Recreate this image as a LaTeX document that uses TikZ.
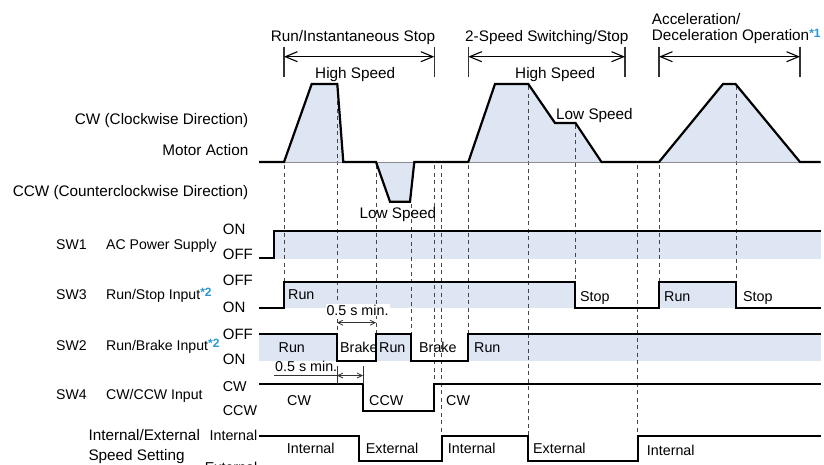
\documentclass[tikz,border=0pt]{standalone}
\usepackage{fontspec}
\setmainfont{Liberation Sans}
\usetikzlibrary{arrows.meta}
\definecolor{bandblue}{RGB}{222,230,244}
\definecolor{starblue}{RGB}{40,150,215}
\definecolor{dashgray}{RGB}{70,70,70}
\newcommand\starnote[1]{\raisebox{3.5pt}{\fontsize{12}{12}\selectfont\bfseries\color{starblue}*#1}}
\begin{document}
\begin{tikzpicture}[x=1pt,y=-1pt,
  sig/.style={line width=2.2pt, line join=miter, line cap=butt},
  guide/.style={dashgray, line width=0.9pt, dash pattern=on 4pt off 3.5pt},
  lbl/.style={inner sep=0pt, font=\fontsize{15.3}{18}\selectfont},
  swl/.style={inner sep=0pt, font=\fontsize{14.1}{17}\selectfont},
  lvl/.style={inner sep=0pt, font=\fontsize{15}{18}\selectfont},
  slbl/.style={inner sep=0pt, font=\fontsize{14.3}{17}\selectfont},
  dimarrow/.style={line width=1.1pt, {Straight Barb[length=12pt,width=10pt]}-{Straight Barb[length=12pt,width=10pt]}},
  dimbar/.style={line width=1.1pt, black!80},
  smallarrow/.style={line width=0.8pt, black!80, {Straight Barb[length=5pt,width=5pt]}-{Straight Barb[length=5pt,width=5pt]}},
  tick/.style={line width=0.8pt, black!80},
]
\useasboundingbox (0,0) rectangle (824,464);

% ---------- bands ----------
\fill[bandblue] (284,162)--(311.7,84)--(337.3,84)--(343.3,162)--cycle;
\fill[bandblue] (376,162)--(390,201.7)--(410,201.7)--(414.3,162)--cycle;
\fill[bandblue] (468.3,162)--(495,84)--(528.3,84)--(555,123)--(575.5,123)--(601.5,162)--cycle;
\fill[bandblue] (659,162)--(723,84)--(735.5,84)--(800,162)--cycle;
\fill[bandblue] (274,231.3) rectangle (820.7,258.5);
\fill[bandblue] (284,281.7) rectangle (575,308);
\fill[bandblue] (659,281.7) rectangle (736,308);
\fill[bandblue] (259,334.3) rectangle (337,360.5);
\fill[bandblue] (376,334.3) rectangle (411,360.5);
\fill[bandblue] (468,334.3) rectangle (820.7,360.5);

% ---------- dashed guide lines ----------
\draw[guide] (284,165) -- (284,281.7);
\draw[guide] (337,86) -- (337,334.3);
\draw[guide] (376,165) -- (376,334.3);
\draw[guide] (411,204) -- (411,334.3);
\draw[guide] (434.3,165) -- (434.3,384.3);
\draw[guide] (441.7,165) -- (441.7,435.7);
\draw[guide] (468.3,165) -- (468.3,334.3);
\draw[guide] (528,86) -- (528,435.7);
\draw[guide] (575,125) -- (575,281.7);
\draw[guide] (637.7,165) -- (637.7,435.7);
\draw[guide] (659,165) -- (659,281.7);
\draw[guide] (736,86) -- (736,281.7);

% ---------- motor action ----------
\draw[black!45, line width=0.6pt] (259,162) -- (820.7,162);
\draw[sig] (259,162)--(284,162)--(311.7,84)--(337.3,84)--(343.3,162)--(376,162)--(390,201.7)--(410,201.7)--(414.3,162)
  --(468.3,162)--(495,84)--(528.3,84)--(555,123)--(575.5,123)--(601.5,162)--(659,162)--(723,84)--(735.5,84)--(800,162)--(820.7,162);

% ---------- switch signals ----------
\draw[sig] (259,257.7)--(274,257.7)--(274,231.3)--(820.7,231.3);
\draw[sig] (259,308.3)--(284,308.3)--(284,281.7)--(575,281.7)--(575,308.3)--(659,308.3)--(659,281.7)--(736,281.7)--(736,308.3)--(820.7,308.3);
\draw[sig] (259,334.3)--(337,334.3)--(337,360.7)--(376,360.7)--(376,334.3)--(411,334.3)--(411,360.7)--(468.3,360.7)--(468.3,334.3)--(820.7,334.3);
\draw[sig] (259,384.3)--(363,384.3)--(363,411)--(434.3,411)--(434.3,384.3)--(820.7,384.3);
\draw[sig] (259,435.7)--(359,435.7)--(359,460.7)--(441.7,460.7)--(441.7,435.7)--(528,435.7)--(528,460.7)--(637.7,460.7)--(637.7,435.7)--(820.7,435.7);

% ---------- top dimensions ----------
\draw[dimbar] (284,46.7) -- (284,77.3);
\draw[dimbar] (434.3,46.7) -- (434.3,77.3);
\draw[dimbar] (468.3,46.7) -- (468.3,77.3);
\draw[dimbar] (625,46.7) -- (625,77.3);
\draw[dimbar] (659,46.7) -- (659,77.3);
\draw[dimbar] (800,46.7) -- (800,77.3);
\coordinate (d1a) at (284,56.7); \coordinate (d1b) at (434.3,56.7);
\coordinate (d2a) at (468.3,56.7); \coordinate (d2b) at (625,56.7);
\coordinate (d3a) at (659,56.7); \coordinate (d3b) at (800,56.7);
\draw[dimarrow] (d1a) -- (d1b);
\draw[dimarrow] (d2a) -- (d2b);
\draw[dimarrow] (d3a) -- (d3b);

\node[lbl, anchor=base west] (t1) at (270.7,41.5) {Run/Instantaneous Stop};
\node[lbl, anchor=base west] (t2) at (465,41.5) {2-Speed Switching/Stop};
\node[lbl, anchor=base west] (t3a) at (651.7,24) {Acceleration/};
\node[lbl, anchor=base west] (t3b) at (651.7,40.5) {Deceleration Operation\starnote{1}};
\node[lbl, anchor=base west] (hs1) at (315,78) {High Speed};
\node[lbl, anchor=base west] (hs2) at (515,78) {High Speed};
\node[lbl, anchor=base west] (ls2) at (556,119) {Low Speed};
\node[lbl, anchor=base west] (ls1) at (359.3,218) {Low Speed};

% ---------- left labels ----------
\node[lbl, anchor=base east] (cw) at (248.5,124) {CW (Clockwise Direction)};
\node[lbl, anchor=base east] (ma) at (248.5,155.5) {Motor Action};
\node[lbl, anchor=base east] (ccw) at (248.5,196) {CCW (Counterclockwise Direction)};

\node[swl, anchor=base west] (sw1) at (56,249) {SW1};
\node[swl, anchor=base west] (sw1d) at (106,249) {AC Power Supply};
\node[swl, anchor=base west] (sw3) at (56,299.5) {SW3};
\node[swl, anchor=base west] (sw3d) at (106,299.5) {Run/Stop Input\starnote{2}};
\node[swl, anchor=base west] (sw2) at (56,350.5) {SW2};
\node[swl, anchor=base west] (sw2d) at (106,350.5) {Run/Brake Input\starnote{2}};
\node[swl, anchor=base west] (sw4) at (56,399) {SW4};
\node[swl, anchor=base west] (sw4d) at (106,399) {CW/CCW Input};
\node[lbl, anchor=base west] (ie1) at (88.3,440.5) {Internal/External};
\node[lbl, anchor=base west] (ie2) at (88.3,460.5) {Speed Setting};

% level labels
\node[lvl, anchor=base west] (on1) at (222.7,234.5) {ON};
\node[lvl, anchor=base west] (off1) at (222.7,259) {OFF};
\node[lvl, anchor=base west] (off3) at (222.7,285.5) {OFF};
\node[lvl, anchor=base west] (on3) at (222.7,312) {ON};
\node[lvl, anchor=base west] (off2) at (222.7,339) {OFF};
\node[lvl, anchor=base west] (on2) at (222.7,364.5) {ON};
\node[slbl, anchor=base west] (cwl) at (222.7,391) {CW};
\node[slbl, anchor=base west] (ccwl) at (222.7,415.5) {CCW};
\node[slbl, anchor=base east] (intl) at (257.5,440.5) {Internal};
\node[slbl, anchor=base east] (extl) at (257.5,472) {External};

% ---------- signal labels ----------
\node[slbl, anchor=base west] (r3a) at (288,299) {Run};
\node[slbl, anchor=base west] (s3a) at (580,301) {Stop};
\node[slbl, anchor=base west] (r3b) at (664,301) {Run};
\node[slbl, anchor=base west] (s3b) at (743,301) {Stop};

\node[slbl, anchor=base west] (r2a) at (278.5,352.5) {Run};
\node[slbl, anchor=base west] (b2a) at (340,352.5) {Brake};
\node[slbl, anchor=base west] (r2b) at (379,352.5) {Run};
\node[slbl, anchor=base west] (b2b) at (419,352.5) {Brake};
\node[slbl, anchor=base west] (r2c) at (474,352.5) {Run};

\node[slbl, anchor=base west] (c4a) at (287,405) {CW};
\node[slbl, anchor=base west] (c4b) at (369,405) {CCW};
\node[slbl, anchor=base west] (c4c) at (446,405) {CW};

\node[slbl, anchor=base west] (i5a) at (286.7,453.5) {Internal};
\node[slbl, anchor=base west] (e5a) at (365.7,453.5) {External};
\node[slbl, anchor=base west] (i5b) at (447.7,453.5) {Internal};
\node[slbl, anchor=base west] (e5b) at (533,453.5) {External};
\node[slbl, anchor=base west] (i5c) at (646.7,455) {Internal};

% ---------- 0.5 s min ----------
\node[slbl, anchor=base, fill=white, inner sep=1pt] (m1) at (357.5,315) {0.5 s min.};
\coordinate (m1a) at (337,322.7); \coordinate (m1b) at (376,322.7);
\draw[smallarrow] (m1a) -- (m1b);

\node[slbl, anchor=base west] (m2) at (275,371) {0.5 s min.};
\coordinate (m2l) at (274,375.5); \coordinate (m2a) at (337,375.5); \coordinate (m2b) at (363,375.5);
\draw[tick] (m2l) -- (m2a);
\draw[smallarrow] (m2a) -- (m2b);
\draw[tick] (337,366) -- (337,384.3);
\draw[tick] (363,366) -- (363,384.3);
\end{tikzpicture}
\end{document}
